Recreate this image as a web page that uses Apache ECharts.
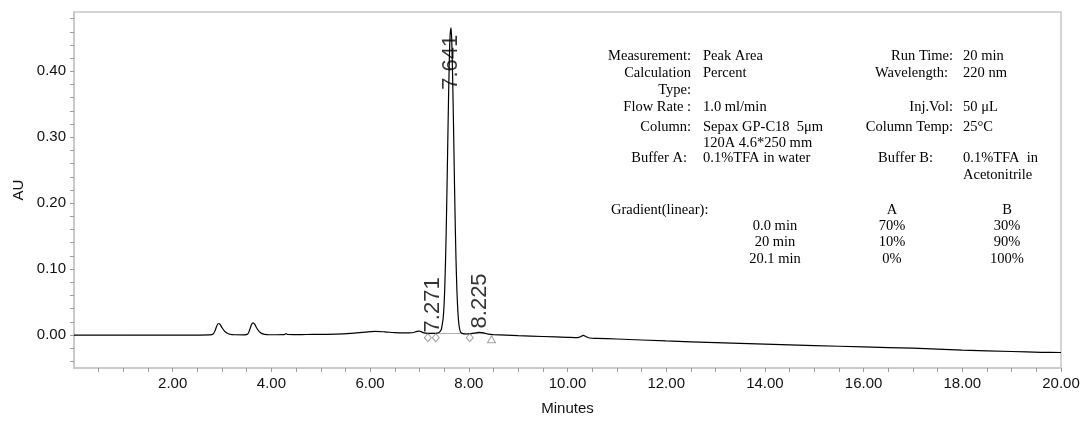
<!DOCTYPE html>
<html>
<head>
<meta charset="utf-8">
<script src="https://cdn.jsdelivr.net/npm/echarts@6/dist/echarts.min.js"></script>
<style>
html,body{margin:0;padding:0;background:#fff;}
#chart{width:1084px;height:421px;}
</style>
</head>
<body>
<div id="chart"></div>
<script>
// ---- data ----
const traceTime = [0.00,0.50,1.00,1.50,2.00,2.50,2.75,2.82,2.86,2.90,2.93,2.96,3.00,3.05,3.10,3.16,3.25,3.45,3.52,3.56,3.60,3.63,3.66,3.70,3.75,3.80,3.86,3.95,4.10,4.25,4.30,4.33,4.45,4.70,5.00,5.30,5.60,5.90,6.10,6.30,6.50,6.70,6.85,6.95,7.00,7.05,7.12,7.20,7.30,7.36,7.40,7.44,7.46,7.48,7.50,7.52,7.54,7.56,7.58,7.60,7.62,7.641,7.66,7.68,7.70,7.72,7.74,7.76,7.78,7.80,7.82,7.85,7.90,7.96,8.05,8.15,8.22,8.30,8.40,8.50,9.00,9.50,10.00,10.20,10.27,10.32,10.37,10.45,10.60,11.00,12.00,13.00,14.00,15.00,16.00,17.00,18.00,19.00,19.60,20.00];
const traceAU   = [0.0000,0.0000,-0.0002,-0.0002,-0.0001,0.0000,0.0002,0.0015,0.0070,0.0150,0.0175,0.0160,0.0110,0.0060,0.0030,0.0012,0.0004,0.0003,0.0015,0.0080,0.0165,0.0185,0.0165,0.0110,0.0055,0.0025,0.0010,0.0004,0.0004,0.0006,0.0020,0.0008,0.0006,0.0008,0.0010,0.0014,0.0025,0.0045,0.0056,0.0048,0.0036,0.0032,0.0035,0.0055,0.0060,0.0045,0.0030,0.0025,0.0025,0.0030,0.0040,0.0080,0.0150,0.0250,0.0475,0.089,0.150,0.230,0.319,0.399,0.453,0.466,0.431,0.361,0.274,0.188,0.117,0.066,0.034,0.016,0.0075,0.0030,0.0018,0.0016,0.0022,0.0034,0.0040,0.0032,0.0012,0.0006,-0.0010,-0.0022,-0.0035,-0.0040,-0.0025,-0.0005,-0.0022,-0.0045,-0.0050,-0.0060,-0.0090,-0.0115,-0.0137,-0.0160,-0.0180,-0.0200,-0.0228,-0.0250,-0.0262,-0.0265];

const peakTimes   = [7.271, 7.641, 8.225];
const peakLabelAU = [0.004, 0.372, 0.010];

const integBaseTime = [7.17, 8.46];
const integBaseAU   = [0.0025, 0.0020];
const diamondTime = [7.17, 7.33, 8.02];
const diamondAU   = [-0.004, -0.004, -0.004];
const triangleTime = [8.46];
const triangleAU   = [-0.0065];

const xTickValues  = [0.5,1,1.5,2,2.5,3,3.5,4,4.5,5,5.5,6,6.5,7,7.5,8,8.5,9,9.5,10,10.5,11,11.5,12,12.5,13,13.5,14,14.5,15,15.5,16,16.5,17,17.5,18,18.5,19,19.5,20];
const xLabelValues = [2,4,6,8,10,12,14,16,18,20];
const yTickValues  = [-0.04,-0.02,0,0.02,0.04,0.06,0.08,0.10,0.12,0.14,0.16,0.18,0.20,0.22,0.24,0.26,0.28,0.30,0.32,0.34,0.36,0.38,0.40,0.42,0.44,0.46,0.48];
const yLabelValues = [0,0.1,0.2,0.3,0.4];

const infoLeftLabels  = ['Measurement:','Calculation','Type:','Flow Rate :','Column:','Buffer A:'];
const infoLeftValues  = ['Peak Area','Percent','1.0 ml/min','Sepax GP-C18  5μm','120A 4.6*250 mm','0.1%TFA in water'];
const infoRightLabels = ['Run Time:','Wavelength:','Inj.Vol:','Column Temp:','Buffer B:'];
const infoRightValues = ['20 min','220 nm','50 μL','25°C','0.1%TFA  in','Acetonitrile'];
const gradientTitle = 'Gradient(linear):';
const gradientHeader = ['A','B'];
const gradientTimes = ['0.0 min','20 min','20.1 min'];
const gradientA = ['70%','10%','0%'];
const gradientB = ['30%','90%','100%'];

// ---- build ----
const zip = (a,b) => a.map((v,i)=>[v,b[i]]);
const serif = '14.5px "Liberation Serif"';
const gray = '#c6c6c6';
const tickGray = '#9a9a9a';

function txt(text, x, y, align){
  return {type:'text', silent:true, style:{text:text, x:x, y:y, font:serif, fill:'#000', textAlign:align||'left', textVerticalAlign:'middle'}};
}
const LX = 691, VX = 703, RX = 953, RVX = 963;
const graphics = [
  txt(infoLeftLabels[0], LX, 56, 'right'),
  txt(infoLeftLabels[1], LX, 73, 'right'),
  txt(infoLeftLabels[2], LX, 90, 'right'),
  txt(infoLeftLabels[3], LX, 107, 'right'),
  txt(infoLeftLabels[4], LX, 127, 'right'),
  txt(infoLeftLabels[5], LX-4, 158, 'right'),
  txt(infoLeftValues[0], VX, 56),
  txt(infoLeftValues[1], VX, 73),
  txt(infoLeftValues[2], VX, 107),
  txt(infoLeftValues[3], VX, 127),
  txt(infoLeftValues[4], VX, 143),
  txt(infoLeftValues[5], VX, 158),
  txt(infoRightLabels[0], RX, 56, 'right'),
  txt(infoRightLabels[1], RX-5, 73, 'right'),
  txt(infoRightLabels[2], RX, 107, 'right'),
  txt(infoRightLabels[3], RX, 127, 'right'),
  txt(infoRightLabels[4], RX-20, 158, 'right'),
  txt(infoRightValues[0], RVX, 56),
  txt(infoRightValues[1], RVX, 73),
  txt(infoRightValues[2], RVX, 107),
  txt(infoRightValues[3], RVX, 127),
  txt(infoRightValues[4], RVX, 158),
  txt(infoRightValues[5], RVX, 175),
  txt(gradientTitle, 611, 210),
  txt(gradientHeader[0], 892, 210, 'center'),
  txt(gradientHeader[1], 1007, 210, 'center')
];
[226, 242, 259].forEach((y,i)=>{
  graphics.push(txt(gradientTimes[i], 775, y, 'center'));
  graphics.push(txt(gradientA[i], 892, y, 'center'));
  graphics.push(txt(gradientB[i], 1007, y, 'center'));
});

const chart = echarts.init(document.getElementById('chart'), null, {renderer:'canvas'});
chart.setOption({
  animation:false,
  backgroundColor:'#fff',
  textStyle:{fontFamily:'"Liberation Sans", Arial, sans-serif'},
  grid:{left:74, right:23, top:12, bottom:53, show:true, borderColor:gray, borderWidth:1.5, backgroundColor:'transparent'},
  xAxis:{
    type:'value', min:0, max:20,
    name:'Minutes', nameLocation:'middle', nameGap:33,
    nameTextStyle:{fontSize:15, color:'#111', fontFamily:'"Liberation Sans"'},
    axisLine:{show:true, onZero:false, lineStyle:{color:gray, width:1.5}},
    axisTick:{show:true, customValues:xTickValues, length:4, lineStyle:{color:tickGray}},
    axisLabel:{customValues:xLabelValues, formatter:v=>v.toFixed(2), fontSize:15, color:'#111', margin:8},
    splitLine:{show:false}
  },
  yAxis:{
    type:'value', min:-0.05, max:0.49,
    name:'AU', nameLocation:'middle', nameGap:46,
    nameTextStyle:{fontSize:15, color:'#111', fontFamily:'"Liberation Sans"'},
    axisLine:{show:true, onZero:false, lineStyle:{color:gray, width:1.5}},
    axisTick:{show:true, customValues:yTickValues, length:4, lineStyle:{color:tickGray}},
    axisLabel:{customValues:yLabelValues, formatter:v=>v.toFixed(2), fontSize:15, color:'#111', margin:8},
    splitLine:{show:false}
  },
  graphic:graphics,
  series:[
    {type:'line', data:zip(integBaseTime, integBaseAU), symbol:'none', lineStyle:{color:'#b0b0b0', width:1}, z:1},
    {type:'line', data:zip(traceTime, traceAU), symbol:'none', smooth:0.3, lineStyle:{color:'#000', width:1.2}, z:3},
    {type:'scatter', data:zip(diamondTime, diamondAU), symbol:'diamond', symbolSize:[7,8], itemStyle:{color:'#fff', borderColor:'#8a8a8a', borderWidth:1}, z:4},
    {type:'scatter', data:zip(triangleTime, triangleAU), symbol:'triangle', symbolSize:[8,7], itemStyle:{color:'#fff', borderColor:'#8a8a8a', borderWidth:1}, z:4},
    {type:'scatter', data:zip(peakTimes, peakLabelAU), symbolSize:0, z:5,
     label:{show:true, position:'top', distance:0, rotate:90, align:'left', verticalAlign:'middle',
            formatter:p=>p.value[0].toFixed(3), fontSize:22, color:'#000', fontFamily:'"Liberation Sans"'}}
  ]
});
</script>
</body>
</html>
